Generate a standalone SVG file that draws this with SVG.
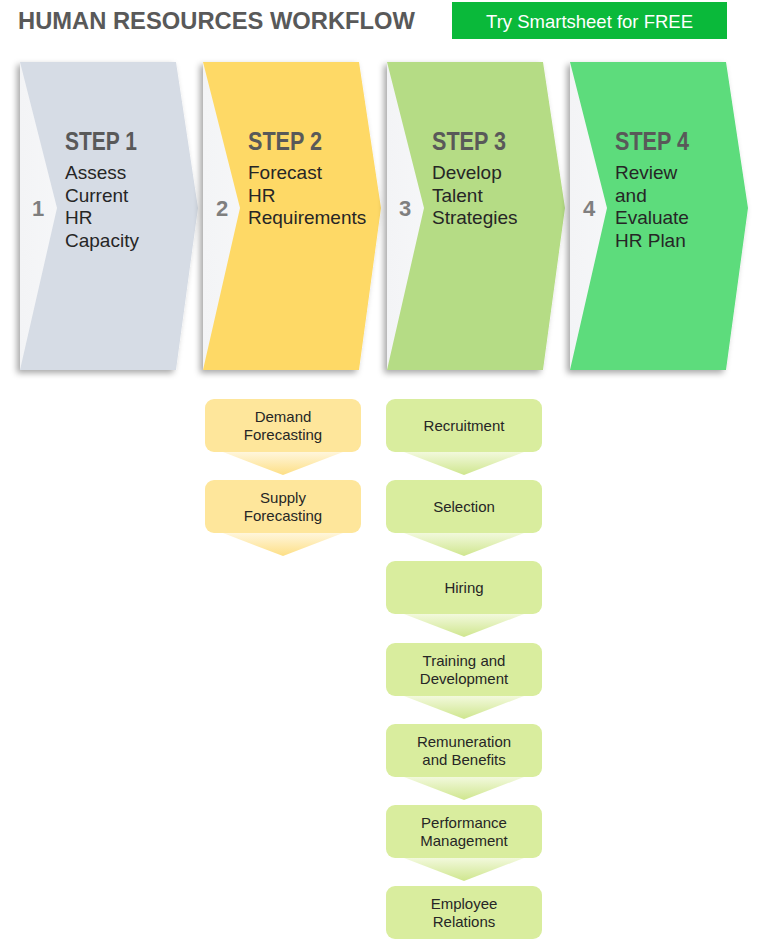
<svg xmlns="http://www.w3.org/2000/svg" width="760" height="942" viewBox="0 0 760 942">
<defs>
<filter id="sh" x="-10%" y="-10%" width="120%" height="120%">
<feDropShadow dx="-3" dy="3" stdDeviation="3" flood-color="#000" flood-opacity="0.35"/>
</filter>
<linearGradient id="notch" x1="0" y1="0" x2="1" y2="0">
<stop offset="0" stop-color="#f3f4f6"/>
<stop offset="1" stop-color="#ffffff"/>
</linearGradient>
<linearGradient id="ya" x1="0" y1="0" x2="0" y2="1">
<stop offset="0" stop-color="#fff6dc"/>
<stop offset="1" stop-color="#fddf85"/>
</linearGradient>
<linearGradient id="ga" x1="0" y1="0" x2="0" y2="1">
<stop offset="0" stop-color="#f2f9dc"/>
<stop offset="1" stop-color="#cfe68e"/>
</linearGradient>
<polygon id="base" points="0,62 156,62 178,208 156,370 0,370"/>
<polygon id="chev" points="0,62 156,62 178,208 156,370 0,370 37,208"/>
</defs>
<style>
.title{font-family:"Liberation Sans",Arial,sans-serif;font-weight:bold;font-size:23px;fill:#595959}
.btn{font-family:"Liberation Sans",Arial,sans-serif;font-size:18.5px;fill:#ffffff}
.num{font-family:"Liberation Sans",Arial,sans-serif;font-weight:bold;font-size:22px;fill:#7f7f7f;text-anchor:middle}
.step{font-family:"Liberation Sans",Arial,sans-serif;font-weight:bold;font-size:25px;fill:#595959}
.body{font-family:"Liberation Sans",Arial,sans-serif;font-size:19px;fill:#262626}
.sub{font-family:"Liberation Sans",Arial,sans-serif;font-size:15px;fill:#262626;text-anchor:middle}
.ybox{fill:#fee69b}
.gbox{fill:#d9ed9e}
</style>
<rect width="760" height="942" fill="#ffffff"/>
<g id="title">
<text class="title" x="18" y="29" textLength="397" lengthAdjust="spacingAndGlyphs">HUMAN RESOURCES WORKFLOW</text>
</g>
<g id="button">
<rect x="452" y="2" width="275" height="37" fill="#0ab93a"/>
<text class="btn" x="589.5" y="28" text-anchor="middle">Try Smartsheet for FREE</text>
</g>
<g id="step1" transform="translate(20,0)">
<use href="#base" fill="url(#notch)" filter="url(#sh)"/>
<use href="#chev" fill="#d6dce5"/>
<text class="num" x="18" y="216">1</text>
<text class="step" x="45" y="150" textLength="72" lengthAdjust="spacingAndGlyphs">STEP 1</text>
<text class="body" x="45" y="179">Assess</text>
<text class="body" x="45" y="201.5">Current</text>
<text class="body" x="45" y="224">HR</text>
<text class="body" x="45" y="246.5">Capacity</text>
</g>
<g id="step2" transform="translate(203,0)">
<use href="#base" fill="url(#notch)" filter="url(#sh)"/>
<use href="#chev" fill="#fed966"/>
<text class="num" x="19" y="216">2</text>
<text class="step" x="45" y="150" textLength="74" lengthAdjust="spacingAndGlyphs">STEP 2</text>
<text class="body" x="45" y="179">Forecast</text>
<text class="body" x="45" y="201.5">HR</text>
<text class="body" x="45" y="224">Requirements</text>
</g>
<g id="step3" transform="translate(387,0)">
<use href="#base" fill="url(#notch)" filter="url(#sh)"/>
<use href="#chev" fill="#b5dc85"/>
<text class="num" x="18" y="216">3</text>
<text class="step" x="45" y="150" textLength="74" lengthAdjust="spacingAndGlyphs">STEP 3</text>
<text class="body" x="45" y="179">Develop</text>
<text class="body" x="45" y="201.5">Talent</text>
<text class="body" x="45" y="224">Strategies</text>
</g>
<g id="step4" transform="translate(570,0)">
<use href="#base" fill="url(#notch)" filter="url(#sh)"/>
<use href="#chev" fill="#5ddc7c"/>
<text class="num" x="19" y="216">4</text>
<text class="step" x="45" y="150" textLength="74" lengthAdjust="spacingAndGlyphs">STEP 4</text>
<text class="body" x="45" y="179">Review</text>
<text class="body" x="45" y="201.5">and</text>
<text class="body" x="45" y="224">Evaluate</text>
<text class="body" x="45" y="246.5">HR Plan</text>
</g>
<g id="connectors">
<polygon points="223,452 343,452 283,475" fill="url(#ya)"/>
<polygon points="223,533 343,533 283,556" fill="url(#ya)"/>
<polygon points="404,452 524,452 464,475" fill="url(#ga)"/>
<polygon points="404,533 524,533 464,556" fill="url(#ga)"/>
<polygon points="404,614 524,614 464,637" fill="url(#ga)"/>
<polygon points="404,696 524,696 464,719" fill="url(#ga)"/>
<polygon points="404,777 524,777 464,800" fill="url(#ga)"/>
<polygon points="404,858 524,858 464,881" fill="url(#ga)"/>
</g>
<g id="demand">
<rect class="ybox" x="205" y="399" width="156" height="53" rx="9"/>
<text class="sub" x="283" y="421.5">Demand</text>
<text class="sub" x="283" y="439.5">Forecasting</text>
</g>
<g id="supply">
<rect class="ybox" x="205" y="480" width="156" height="53" rx="9"/>
<text class="sub" x="283" y="502.5">Supply</text>
<text class="sub" x="283" y="520.5">Forecasting</text>
</g>
<g id="recruitment">
<rect class="gbox" x="386" y="399" width="156" height="53" rx="9"/>
<text class="sub" x="464" y="431">Recruitment</text>
</g>
<g id="selection">
<rect class="gbox" x="386" y="480" width="156" height="53" rx="9"/>
<text class="sub" x="464" y="512">Selection</text>
</g>
<g id="hiring">
<rect class="gbox" x="386" y="561" width="156" height="53" rx="9"/>
<text class="sub" x="464" y="593">Hiring</text>
</g>
<g id="training">
<rect class="gbox" x="386" y="643" width="156" height="53" rx="9"/>
<text class="sub" x="464" y="665.5">Training and</text>
<text class="sub" x="464" y="683.5">Development</text>
</g>
<g id="remuneration">
<rect class="gbox" x="386" y="724" width="156" height="53" rx="9"/>
<text class="sub" x="464" y="746.5">Remuneration</text>
<text class="sub" x="464" y="764.5">and Benefits</text>
</g>
<g id="performance">
<rect class="gbox" x="386" y="805" width="156" height="53" rx="9"/>
<text class="sub" x="464" y="827.5">Performance</text>
<text class="sub" x="464" y="845.5">Management</text>
</g>
<g id="employee">
<rect class="gbox" x="386" y="886" width="156" height="53" rx="9"/>
<text class="sub" x="464" y="908.5">Employee</text>
<text class="sub" x="464" y="926.5">Relations</text>
</g>
</svg>
